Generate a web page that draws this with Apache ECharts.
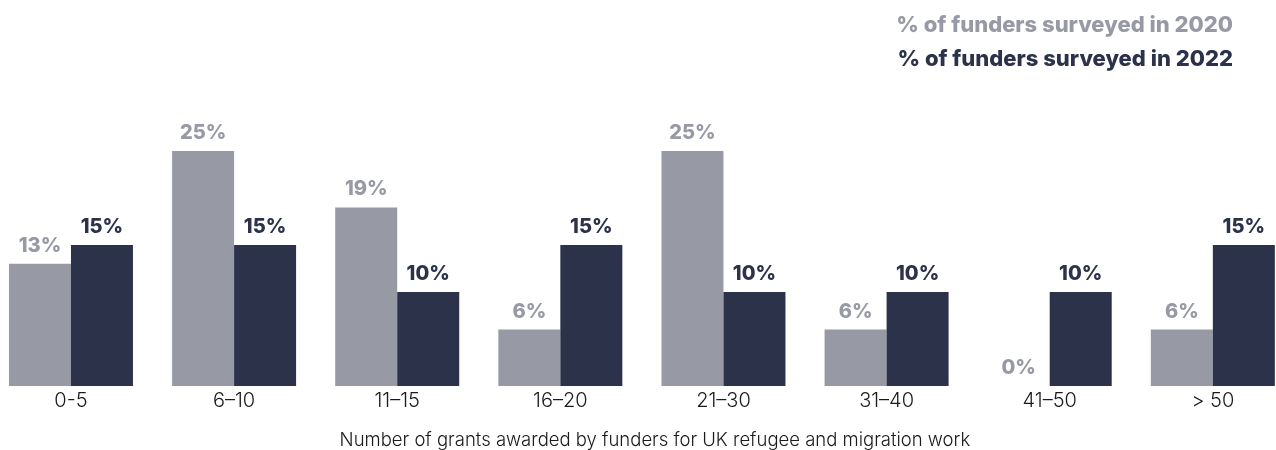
<!DOCTYPE html>
<html>
<head>
<meta charset="utf-8">
<script src="https://cdn.jsdelivr.net/npm/echarts@6/dist/echarts.min.js"></script>
<style>
  html, body { margin: 0; padding: 0; background: #ffffff; overflow: hidden; }
  #chart { width: 1276px; height: 450px; }
</style>
</head>
<body>
<div id="chart"></div>
<script>
// Grant-count bands and share of funders in each band
const categories = ['0-5', '6\u201310', '11\u201315', '16\u201320', '21\u201330', '31\u201340', '41\u201350', '> 50'];
const seriesNames = ['% of funders surveyed in 2020', '% of funders surveyed in 2022'];
const values2020 = [13, 25, 19, 6, 25, 6, 0, 6];
const values2022 = [15, 15, 10, 15, 10, 10, 10, 15];
const axisTitle = 'Number of grants awarded by funders for UK refugee and migration work';

const GREY = '#979aa5';
const NAVY = '#2b324a';
const FONT = 'Inter, "Noto Sans", sans-serif';

const chart = echarts.init(document.getElementById('chart'));

function barSeries(name, data, color) {
  return {
    name: name,
    type: 'bar',
    data: data,
    barWidth: 62,
    barGap: '0%',
    itemStyle: { color: color },
    label: {
      show: true,
      position: 'top',
      distance: 8,
      formatter: '{c}%',
      color: color,
      fontFamily: FONT,
      fontWeight: 800,
      fontSize: 20
    },
    emphasis: { disabled: true }
  };
}

chart.setOption({
  animation: false,
  legend: {
    orient: 'vertical',
    right: 33,
    top: 9,
    align: 'right',
    itemWidth: 0,
    itemHeight: 0,
    itemGap: 12,
    selectedMode: false,
    textStyle: { fontFamily: FONT, fontWeight: 800, fontSize: 22 },
    data: [
      { name: seriesNames[0], icon: 'rect', textStyle: { color: GREY } },
      { name: seriesNames[1], icon: 'rect', textStyle: { color: NAVY } }
    ]
  },
  grid: {
    left: -10.6,
    width: 1305,
    top: 151,
    bottom: 64,
    containLabel: false,
    outerBoundsMode: 'none'
  },
  xAxis: {
    type: 'category',
    data: categories,
    axisLine: { show: false },
    axisTick: { show: false },
    axisLabel: { color: '#1a1a1a', fontFamily: FONT, fontWeight: 300, fontSize: 20, margin: 5 },
    name: axisTitle,
    nameLocation: 'middle',
    nameGap: 45,
    nameTextStyle: {
      color: '#1a1a1a',
      fontFamily: FONT,
      fontWeight: 300,
      fontSize: 18.5,
      padding: [0, 0, 0, 26]
    }
  },
  yAxis: {
    type: 'value',
    min: 0,
    max: 25,
    show: false,
    splitLine: { show: false }
  },
  series: [
    barSeries(seriesNames[0], values2020, GREY),
    barSeries(seriesNames[1], values2022, NAVY)
  ]
});
</script>
</body>
</html>
